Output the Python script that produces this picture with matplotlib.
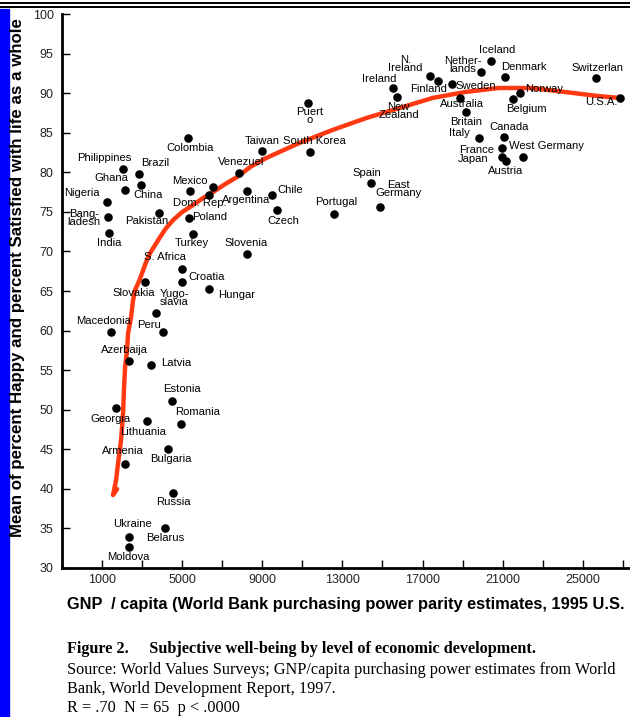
import matplotlib
matplotlib.use("Agg")
import matplotlib.pyplot as plt
from matplotlib.patches import Rectangle
from matplotlib.lines import Line2D

countries = ["Iceland", "Nether-\nlands", "Denmark", "Switzerlan", "U.S.A.", "Norway", "Belgium",
             "N.\nIreland", "Finland", "Sweden", "Ireland", "New\nZealand", "Australia", "Britain",
             "Italy", "Canada", "France", "Japan", "Austria", "West Germany", "Puert\no", "Taiwan",
             "South Korea", "Venezuel", "Mexico", "", "Dom. Rep.", "Argentina", "Chile", "Czech",
             "Portugal", "Spain", "East\nGermany", "Poland", "Turkey", "Slovenia", "Colombia",
             "Philippines", "Brazil", "Ghana", "China", "Nigeria", "Bang-\nladesh", "India",
             "Pakistan", "S. Africa", "Croatia", "Hungar", "Slovakia", "Yugo-\nslavia", "Peru",
             "Macedonia", "Azerbaija", "Latvia", "Estonia", "Georgia", "Lithuania", "Romania",
             "Armenia", "Bulgaria", "Russia", "Ukraine", "Belarus", "Moldova"]
gnp = [20400, 19900, 21100, 25650, 26850, 21850, 21500,
       17350, 17750, 18450, 15550, 15750, 18850, 19150,
       19800, 21050, 20950, 20950, 21150, 22000, 11300, 9000,
       11400, 7850, 5400, 6550, 6350, 8250, 9500, 9750,
       12600, 14450, 14900, 5350, 5550, 8250, 5300,
       2050, 2850, 2150, 2950, 1250, 1300, 1350,
       3850, 5000, 5000, 6350, 3150, 3700, 4050,
       1450, 2350, 3450, 4500, 1700, 3250, 4950,
       2150, 4300, 4550, 2350, 4150, 2350]
swb = [94.06, 92.67, 92.04, 91.92, 89.39, 90.02, 89.26,
       92.17, 91.54, 91.16, 90.65, 89.52, 89.39, 87.62,
       84.33, 84.46, 83.07, 81.93, 81.43, 81.93, 88.76, 82.69,
       82.57, 79.91, 77.64, 78.14, 77.13, 77.64, 77.13, 75.24,
       74.73, 78.65, 75.62, 74.22, 72.20, 69.68, 84.33,
       80.42, 79.79, 77.76, 78.39, 76.25, 74.35, 72.33,
       74.86, 67.78, 66.14, 65.25, 66.14, 62.22, 59.82,
       59.82, 56.16, 55.65, 51.10, 50.22, 48.57, 48.20,
       43.14, 45.04, 39.48, 33.92, 35.05, 32.65]

# fitted curve
curve_x = [26850, 25750, 24100, 22450, 20800, 19150, 17500, 15850, 14200, 12500, 10850,
           9200, 8400, 7750, 7150, 6550, 6050, 5550, 5000, 4550, 4200, 3900, 3650, 3400,
           3200, 3000, 2850, 2650, 2550, 2450, 2300, 2250, 2150, 2100, 2050, 1950, 1800,
           1700, 1550, 1750]
curve_y = [89.39, 89.64, 90.15, 90.65, 90.65, 90.15, 89.39, 88.12, 86.86, 85.34, 83.70,
           81.81, 80.67, 79.41, 78.52, 77.51, 76.76, 75.87, 74.98, 73.97, 72.96, 71.82, 70.81,
           69.80, 68.67, 67.28, 66.26, 65.13, 63.86, 61.72, 59.69, 57.55, 55.40, 52.87, 49.59,
           46.17, 43.27, 41.12, 39.22, 39.98]

x_major = [1000, 5000, 9000, 13000, 17000, 21000, 25000]
x_minor = [3000, 7000, 11000, 15000, 19000, 23000, 27000]
y_ticks = list(range(30, 101, 5))

# label offsets in pixels (dx right, dy down) — layout only
offs = [(7, -11), (-18, -7), (19, -10), (2, -10), (-18, 4), (24, -4), (14, 10),
        (-24, -12), (-9, 8), (24, 2), (-14, -9), (1, 14), (2, 6), (1, 10),
        (-19, -5), (5, -10), (-25, 2), (-28, 2), (0, 10), (24, -11), (1, 13), (0, -10),
        (4, -11), (2, -11), (0, -10), (0, 0), (-9, 8), (-1, 9), (18, -5), (6, 11),
        (2, -12), (-5, -10), (18, -18), (20, -1), (-1, 9), (-1, -11), (2, 10),
        (-19, -11), (16, -11), (-14, -12), (7, 10), (-25, -9), (-24, 1), (0, 10),
        (-12, 8), (-17, -12), (24, -5), (27, 6), (-11, 11), (18, -15), (-14, -7),
        (-8, -11), (-5, -11), (25, -2), (10, -12), (-6, 11), (-4, 11), (16, -12),
        (-2, -13), (3, 10), (0, 9), (3, -13), (0, 10), (-1, 10)]

W, H = 630, 717
fig = plt.figure(figsize=(W / 100, H / 100), dpi=100)
fig.patch.set_facecolor("white")

ax = fig.add_axes([62 / W, (H - 568) / H, (W - 62) / W, (568 - 14) / H])
ax.set_xlim(-1000, 27360)
ax.set_ylim(30, 100)
ax.patch.set_alpha(0)

ax.plot(curve_x, curve_y, color="#ff3a12", lw=3.2, solid_capstyle="round",
        solid_joinstyle="round", zorder=2)
ax.scatter(gnp, swb, s=38, color="black", zorder=3, linewidths=0)

for name, x, y, (dx, dy) in zip(countries, gnp, swb, offs):
    if not name:
        continue
    ax.annotate(name, (x, y), xytext=(dx, -dy), textcoords="offset pixels",
                ha="center", va="center", fontsize=8.1, family="Liberation Sans",
                color="black", linespacing=0.85, zorder=4)

for s in ["top", "right"]:
    ax.spines[s].set_visible(False)
for s in ["left", "bottom"]:
    ax.spines[s].set_linewidth(2)

ax.set_xticks(x_major)
ax.set_xticklabels([str(v) for v in x_major])
ax.set_xticks(x_minor, minor=True)
ax.set_yticks(y_ticks)
ax.set_yticklabels([str(v) for v in y_ticks])
ax.tick_params(axis="both", which="both", direction="in", length=6, width=1, color="black")
ax.tick_params(axis="x", which="major", pad=4, labelsize=9, labelcolor="#222222")
ax.tick_params(axis="y", pad=6, labelsize=9, labelcolor="#222222")
for lab in ax.get_xticklabels() + ax.get_yticklabels():
    lab.set_family("Liberation Sans")

def ftext(x, y, s, **kw):
    fig.text(x / W, 1 - y / H, s, **kw)

ftext(18, 278, "Mean of percent Happy and percent Satisfied with life as a whole",
      rotation=90, ha="center", va="center", fontsize=12.2, fontweight="bold",
      family="Liberation Sans")
ftext(67, 604, "GNP  / capita (World Bank purchasing power parity estimates, 1995 U.S.",
      ha="left", va="center", fontsize=11.8, fontweight="bold", family="Liberation Sans")

ftext(67, 649, "Figure 2.     Subjective well-being by level of economic development.",
      ha="left", va="center", fontsize=11.7, fontweight="bold", family="Liberation Serif")
ftext(67, 670, "Source: World Values Surveys; GNP/capita purchasing power estimates from World",
      ha="left", va="center", fontsize=11.7, family="Liberation Serif")
ftext(67, 689, "Bank, World Development Report, 1997.",
      ha="left", va="center", fontsize=11.7, family="Liberation Serif")
ftext(67, 708, "R = .70  N = 65  p < .0000",
      ha="left", va="center", fontsize=11.7, family="Liberation Serif")

fig.patches.append(Rectangle((0, 0), 9 / W, 1 - 9 / H, transform=fig.transFigure,
                             color="#0000ff", zorder=0))
for yy in (3, 7):
    fig.lines.append(Line2D([0, 1], [1 - yy / H, 1 - yy / H], transform=fig.transFigure,
                            color="black", lw=1.4))

fig.savefig("out.png", dpi=100)
